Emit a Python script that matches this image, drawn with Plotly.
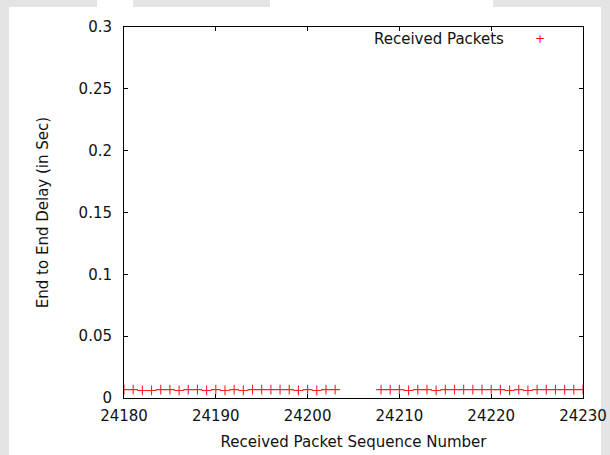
import plotly.graph_objects as go

# Data
seq_a = list(range(24180, 24204))
delay_a = [0.0068, 0.0068, 0.0061, 0.0061, 0.0068, 0.0068, 0.0061, 0.0068,
           0.0068, 0.0061, 0.0068, 0.0061, 0.0068, 0.0061, 0.0068, 0.0068,
           0.0068, 0.0068, 0.0068, 0.0061, 0.0068, 0.0061, 0.0068, 0.0068]
seq_b = list(range(24208, 24231))
delay_b = [0.0068, 0.0068, 0.0068, 0.0061, 0.0068, 0.0068, 0.0061, 0.0068,
           0.0068, 0.0068, 0.0068, 0.0068, 0.0068, 0.0068, 0.0061, 0.0068,
           0.0061, 0.0068, 0.0068, 0.0068, 0.0068, 0.0068, 0.0068]
x_ticks = [24180, 24190, 24200, 24210, 24220, 24230]
y_ticks = [0, 0.05, 0.1, 0.15, 0.2, 0.25, 0.3]
y_tick_labels = ["0", "0.05", "0.1", "0.15", "0.2", "0.25", "0.3"]

seq = seq_a + [None] + seq_b
delay = delay_a + [None] + delay_b

FONT = "DejaVu Sans"
FS = 15

fig = go.Figure()
fig.add_trace(go.Scatter(
    x=seq, y=delay, mode="markers", name="Received Packets",
    marker=dict(symbol="cross-thin", size=7, color="red",
                line=dict(color="#ff2020", width=1.1)),
    cliponaxis=True, showlegend=False,
))

axis_common = dict(
    showgrid=False, zeroline=False, showline=True, linecolor="black",
    linewidth=1, mirror="ticks", ticks="inside", ticklen=4,
    tickcolor="black", tickwidth=1, automargin=False,
    tickfont=dict(family=FONT, size=FS, color="#111"),
)

fig.update_xaxes(range=[24180, 24230], tickvals=x_ticks,
                 ticktext=[str(v) for v in x_ticks],
                 title=dict(text="Received Packet Sequence Number",
                            font=dict(family=FONT, size=FS, color="#111"),
                            standoff=12),
                 ticklabelstandoff=4,
                 **axis_common)
fig.update_yaxes(range=[0, 0.3], tickvals=y_ticks, ticktext=y_tick_labels,
                 title=dict(text="End to End Delay (in Sec)",
                            font=dict(family=FONT, size=FS, color="#111"),
                            standoff=26),
                 ticklabelstandoff=8,
                 **axis_common)

# background (faint grey page edges)
gray = "#e4e4e4"
def px_x(p):
    return (p - 124) / 459.0
def px_y(p):
    return (398 - p) / 371.0

shapes = [
    dict(type="rect", xref="paper", yref="paper", layer="below",
         x0=px_x(9), x1=px_x(601), y0=px_y(460), y1=px_y(7),
         fillcolor="white", line=dict(width=0)),
    dict(type="rect", xref="paper", yref="paper", layer="below",
         x0=px_x(97), x1=px_x(133), y0=px_y(7), y1=px_y(-2),
         fillcolor="white", line=dict(width=0)),
    dict(type="rect", xref="paper", yref="paper", layer="below",
         x0=px_x(270), x1=px_x(493), y0=px_y(7), y1=px_y(-2),
         fillcolor="white", line=dict(width=0)),
]

fig.update_layout(
    width=610, height=455,
    margin=dict(l=124, r=27, t=27, b=57),
    paper_bgcolor=gray, plot_bgcolor="white",
    shapes=shapes,
    annotations=[
        dict(text="Received Packets", xref="paper", yref="paper",
             x=px_x(506), y=px_y(39), xanchor="right", yanchor="middle",
             showarrow=False, font=dict(family=FONT, size=FS, color="#111")),
        dict(text="+", xref="paper", yref="paper",
             x=px_x(540), y=px_y(39), xanchor="center", yanchor="middle",
             showarrow=False, font=dict(family=FONT, size=12, color="red")),
    ],
)

fig.write_html("out.html")
